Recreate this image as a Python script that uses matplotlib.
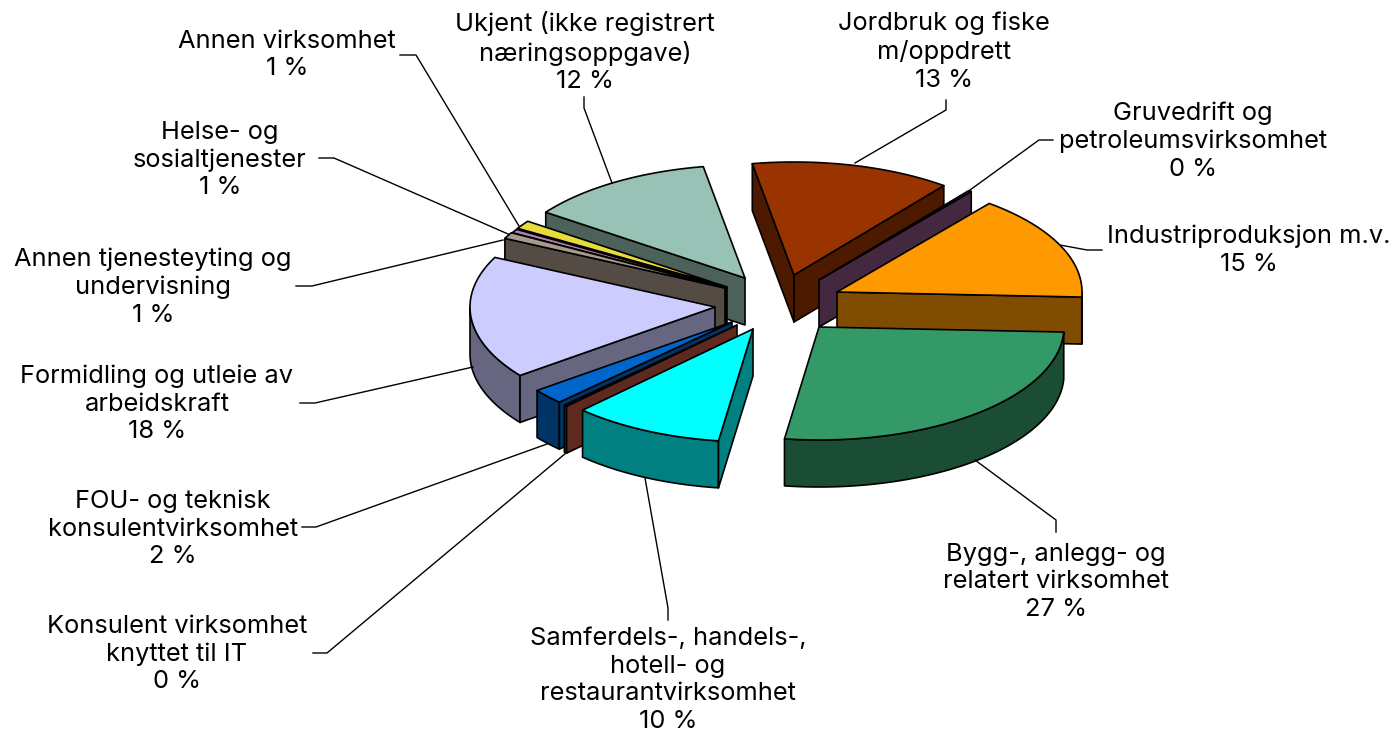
import numpy as np
import matplotlib
matplotlib.use('Agg')
import matplotlib.pyplot as plt
from matplotlib.patches import Polygon

names = ['Jordbruk og fiske\nm/oppdrett',
         'Gruvedrift og\npetroleumsvirksomhet',
         'Industriproduksjon m.v.',
         'Bygg-, anlegg- og\nrelatert virksomhet',
         'Samferdels-, handels-,\nhotell- og\nrestaurantvirksomhet',
         'Konsulent virksomhet\nknyttet til IT',
         'FOU- og teknisk\nkonsulentvirksomhet',
         'Formidling og utleie av\narbeidskraft',
         'Annen tjenesteyting og\nundervisning',
         'Helse- og\nsosialtjenester',
         'Annen virksomhet',
         'Ukjent (ikke registrert\nnæringsoppgave)']
values = [13.2, 0.2, 15.05, 26.55, 10.0, 0.2, 2.2, 17.6, 0.9, 0.55, 1.2, 12.4]

# style for each slice
top_cols = ['#993300', '#7f5070', '#ff9900', '#339966', '#00ffff', '#993300',
            '#0066cc', '#ccccff', '#a89b8b', '#b080b0', '#e8dc3c', '#99c2b6']
wall_cols = ['#4d1a00', '#44283f', '#7f4c00', '#1a4d33', '#008080', '#5e2a1f',
             '#003366', '#666680', '#544c44', '#402840', '#000000', '#4d615b']
# explosion of each slice from the pie centre, px
explode = [(22, -30), (47, -25), (65, -13), (47, 22), (-19, 24), (-35, 20),
           (-40, 17), (-57, 2), (-47, -17), (-46, -17), (-45, -18), (-27, -27)]
draw_order = [11, 10, 9, 8, 7, 6, 5, 4, 0, 1, 2, 3]

cx, cy = 772, 305
rx, ry = 245, 113
depth = 47
start_angle = -9.8

# label centre, leader line (px)
label_pos = [(944, 52), (1193, 141), (1249, 250), (1056, 582), (668, 680), (177, 654),
             (173, 529), (157, 404), (153, 287), (220, 160), (287, 55), (585, 52)]
leaders = [[(946, 100), (946, 110), (855, 163)],
           [(1053, 140), (1039, 140), (970, 190)],
           [(1102, 250), (1087, 250), (1060, 245)],
           [(1056, 532), (1056, 520), (975, 460)],
           [(668, 620), (668, 608), (645, 478)],
           [(313, 653), (327, 653), (566, 453)],
           [(302, 527), (316, 527), (547, 444)],
           [(300, 403), (315, 403), (473, 367)],
           [(296, 286), (312, 286), (503, 240)],
           [(319, 158), (334, 158), (508, 234)],
           [(400, 55), (416, 55), (519, 226)],
           [(584, 97), (584, 108), (612, 183)]]

fig = plt.figure(figsize=(13.9, 7.34), dpi=100)
ax = fig.add_axes([0, 0, 1, 1])
ax.set_xlim(0, 1390)
ax.set_ylim(734, 0)
ax.axis('off')


def point(tip, ang):
    a = np.radians(ang)
    return np.column_stack([tip[0] + rx * np.sin(a), tip[1] - ry * np.cos(a)])


def add_poly(pts, col, z):
    ax.add_patch(Polygon(pts, closed=True, facecolor=col, edgecolor='black',
                         lw=1.2, joinstyle='round', zorder=z))


shares = np.array(values) / np.sum(values) * 360
edges = start_angle + np.concatenate([[0], np.cumsum(shares)])

for n, i in enumerate(draw_order):
    t1, t2 = edges[i], edges[i + 1]
    tip = (cx + explode[i][0], cy + explode[i][1])
    z = n * 3 + 1
    down = np.array([0, depth])
    # outer wall, only the front half can be seen
    a1, a2 = max(t1, 90), min(t2, 270)
    if a2 > a1:
        arc = point(tip, np.linspace(a1, a2, 60))
        add_poly(np.vstack([arc, (arc + down)[::-1]]), wall_cols[i], z)
    # cut faces
    tp = np.array(tip, dtype=float)
    for ang, vis in ((t1, np.sin(np.radians(t1)) < 0), (t2, np.sin(np.radians(t2)) > 0)):
        if vis:
            p = point(tip, np.array([ang]))[0]
            add_poly([tp, p, p + down, tp + down], wall_cols[i], z + 1)
    # top
    arc = point(tip, np.linspace(t1, t2, 60))
    add_poly(np.vstack([[tp], arc]), top_cols[i], z + 2)

for i in range(len(values)):
    txt = '%s\n%d %%' % (names[i], round(values[i]))
    ax.text(label_pos[i][0], label_pos[i][1], txt, ha='center', va='center',
            family='Inter', fontsize=18.3, linespacing=1.26, color='black', zorder=100)
    xs, ys = zip(*leaders[i])
    ax.plot(xs, ys, color='black', lw=1.0, zorder=50)

fig.savefig('out.png', dpi=100)
